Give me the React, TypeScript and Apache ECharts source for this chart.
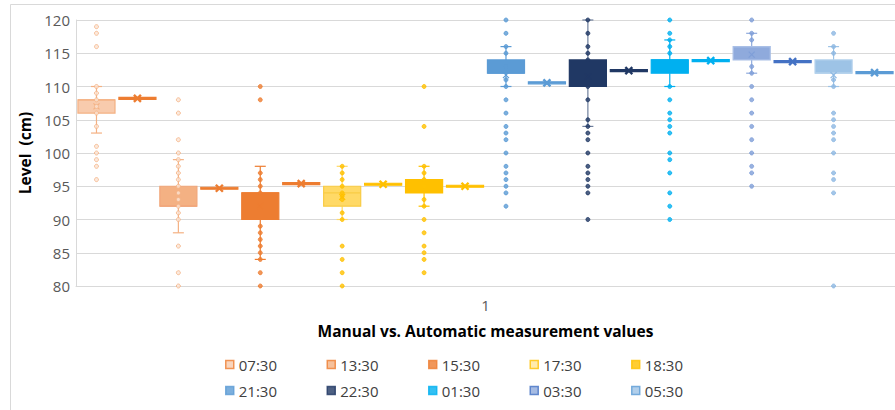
import React, { useEffect, useRef } from "react";
import * as echarts from "echarts";

// ---------- DATA ----------
const categories = ["1"];
const times = ["07:30", "13:30", "15:30", "17:30", "18:30", "21:30", "22:30", "01:30", "03:30", "05:30"];

// manual box statistics: [whisker low, Q1, median, Q3, whisker high, mean]
const manualStats = [
  [103, 106, 108, 108, 110, 107],
  [88, 92, 92, 95, 99, 93],
  [84, 90, 94, 94, 98, 92],
  [90, 92, 94, 95, 98, 93.4],
  [92, 94, 95, 96, 98, 95],
  [110, 112, 112, 114, 116, 111.7],
  [104, 110, 110, 114, 120, 111.5],
  [110, 112, 114, 114, 117, 112.8],
  [112, 114, 116, 116, 118, 114.8],
  [110, 112, 112, 114, 116, 111.7],
];

// automatic measurement statistics: [whisker low, Q1, median, Q3, whisker high, mean]
const autoStats = [
  [108.05, 108.05, 108.2, 108.35, 108.35, 108.2],
  [94.55, 94.55, 94.7, 94.85, 94.85, 94.7],
  [95.25, 95.25, 95.4, 95.55, 95.55, 95.4],
  [95.15, 95.15, 95.3, 95.45, 95.45, 95.3],
  [94.85, 94.85, 95.0, 95.15, 95.15, 95.0],
  [110.4, 110.4, 110.55, 110.7, 110.7, 110.55],
  [112.25, 112.25, 112.4, 112.55, 112.55, 112.4],
  [113.75, 113.75, 113.9, 114.05, 114.05, 113.9],
  [113.6, 113.6, 113.75, 113.9, 113.9, 113.75],
  [111.95, 111.95, 112.1, 112.25, 112.25, 112.1],
];

// individual manual readings (inner points and outliers)
const points0730 = [119, 118, 116, 110, 109, 108, 107, 106, 104, 101, 100, 99, 98, 96];
const points1330 = [108, 106, 102, 100, 99, 98, 97, 96, 95, 94, 93, 92, 91, 90, 86, 82, 80];
const points1530 = [110, 108, 97, 96, 95, 94, 89, 88, 87, 86, 85, 84, 82, 80];
const points1730 = [98, 97, 96, 95, 94, 93.5, 93, 91, 90, 86, 84, 82, 80];
const points1830 = [110, 104, 98, 97, 96, 95, 93, 92, 90, 88, 86, 85, 84, 82];
const points2130 = [120, 118, 116, 115, 113, 111, 110, 108, 106, 104, 103, 102, 100, 98, 97, 96, 95, 94, 92];
const points2230 = [120, 118, 116, 115, 114, 110, 108, 105, 104, 103, 102, 100, 98, 97, 96, 95, 94, 90];
const points0130 = [120, 118, 117, 116, 115, 110, 108, 106, 105, 104, 103, 100, 99, 97, 94, 92, 90];
const points0330 = [120, 118, 117, 113, 112, 110, 108, 106, 104, 102, 100, 98, 97, 95];
const points0530 = [118, 116, 115, 111, 110, 106, 105, 104, 103, 102, 100, 97, 96, 94, 80];
const pointsByTime = [points0730, points1330, points1530, points1730, points1830, points2130, points2230, points0130, points0330, points0530];

const yTicks = { min: 80, max: 120, interval: 5 };

// ---------- STYLES ----------
const manualFill = ["#F8CBAD", "#F4B183", "#ED7D31", "#FFD966", "#FFC000", "#5B9BD5", "#203864", "#00B0F0", "#8FAADC", "#9DC3E6"];
const manualStroke = ["#F4B183", "#F1A67A", "#ED7D31", "#F9CB45", "#FFC000", "#5B9BD5", "#203864", "#00B0F0", "#A9BFE6", "#B3D1EC"];
const whiskerColor = ["#F4B183", "#F4B183", "#ED7D31", "#FFD966", "#FFC000", "#5B9BD5", "#6F7F9C", "#00B0F0", "#8FAADC", "#9DC3E6"];
const autoColor = ["#ED7D31", "#ED7D31", "#ED7D31", "#FFC000", "#FFC000", "#5B9BD5", "#203864", "#00B0F0", "#4472C4", "#5B9BD5"];
const pointFill = ["#FBE3D3", "#FBE3D3", "#ED7D31", "#FFC000", "#FFC000", "#5B9BD5", "#203864", "#00B0F0", "#7F9FD8", "#8DB8E2"];
const pointStroke = ["#F4B183", "#F4B183", "#ED7D31", "#FFC000", "#FFC000", "#5B9BD5", "#203864", "#00B0F0", "#7F9FD8", "#8DB8E2"];
const legendFill = ["#F8CBAD", "#F4B183", "#ED7D31", "#FFE699", "#FFC000", "#5B9BD5", "#203864", "#00B0F0", "#8FAADC", "#9DC3E6"];
const legendStroke = ["#ED7D31", "#ED7D31", "#ED7D31", "#FFC000", "#FFC000", "#5B9BD5", "#203864", "#00B0F0", "#4472C4", "#5B9BD5"];

const FONT = "'Open Sans', 'Segoe UI', sans-serif";
const TEXT = "#595959";

export default function App() {
  const ref = useRef<HTMLDivElement>(null);

  useEffect(() => {
    if (!ref.current) return;
    const chart = echarts.init(ref.current, null, { renderer: "svg" });

    const slots = times.flatMap((t) => [t + " manual", t + " auto"]);
    const boxData = times.flatMap((t, i) => [
      [2 * i, ...manualStats[i]],
      [2 * i + 1, ...autoStats[i]],
    ]);

    const renderItem = (params: any, api: any) => {
      const slot = api.value(0);
      const i = Math.floor(slot / 2);
      const isAuto = slot % 2 === 1;
      const lo = api.coord([slot, api.value(1)]);
      const q1 = api.coord([slot, api.value(2)]);
      const med = api.coord([slot, api.value(3)]);
      const q3 = api.coord([slot, api.value(4)]);
      const hi = api.coord([slot, api.value(5)]);
      const mean = api.coord([slot, api.value(6)]);
      const slotW = api.size([1, 0])[0];
      const bw = slotW * 0.905;
      const cx = lo[0];
      const fill = isAuto ? autoColor[i] : manualFill[i];
      const stroke = isAuto ? autoColor[i] : manualStroke[i];
      const wc = isAuto ? autoColor[i] : whiskerColor[i];
      const xc = isAuto ? autoColor[i] : pointStroke[i];
      const cap = 5.5;
      const children: any[] = [];
      if (!isAuto) {
        children.push(
          { type: "line", shape: { x1: cx, y1: hi[1], x2: cx, y2: q3[1] }, style: { stroke: wc, lineWidth: 1.2 } },
          { type: "line", shape: { x1: cx, y1: q1[1], x2: cx, y2: lo[1] }, style: { stroke: wc, lineWidth: 1.2 } },
          { type: "line", shape: { x1: cx - cap, y1: hi[1], x2: cx + cap, y2: hi[1] }, style: { stroke: wc, lineWidth: 1.2 } },
          { type: "line", shape: { x1: cx - cap, y1: lo[1], x2: cx + cap, y2: lo[1] }, style: { stroke: wc, lineWidth: 1.2 } }
        );
      }
      children.push({
        type: "rect",
        shape: { x: cx - bw / 2, y: q3[1], width: bw, height: Math.max(q1[1] - q3[1], 1) },
        style: { fill, stroke, lineWidth: 1.2 },
      });
      if (!isAuto) {
        children.push({
          type: "line",
          shape: { x1: cx - bw / 2, y1: med[1], x2: cx + bw / 2, y2: med[1] },
          style: { stroke, lineWidth: 1.2 },
        });
      }
      const m = isAuto ? 3.5 : 3;
      children.push(
        { type: "line", shape: { x1: cx - m, y1: mean[1] - m, x2: cx + m, y2: mean[1] + m }, style: { stroke: xc, lineWidth: isAuto ? 2.4 : 1.2 } },
        { type: "line", shape: { x1: cx - m, y1: mean[1] + m, x2: cx + m, y2: mean[1] - m }, style: { stroke: xc, lineWidth: isAuto ? 2.4 : 1.2 } }
      );
      return { type: "group", children };
    };

    const pointSeries = times.map((t, i) => ({
      name: t,
      type: "scatter",
      xAxisIndex: 0,
      yAxisIndex: 0,
      symbol: "circle",
      symbolSize: 4,
      z: 4,
      itemStyle: { color: pointFill[i], borderColor: pointStroke[i], borderWidth: 1 },
      data: pointsByTime[i].map((v) => [2 * i, v]),
    }));

    const legendData = times.map((t, i) => ({
      name: t,
      icon: "rect",
      itemStyle: { color: legendFill[i], borderColor: legendStroke[i], borderWidth: 1.5 },
    }));

    const legendCommon = {
      orient: "horizontal",
      padding: 0,
      itemWidth: 8,
      itemHeight: 8,
      itemGap: 49.5,
      selectedMode: false,
      textStyle: { fontFamily: FONT, fontSize: 15, color: "#404040" },
    };

    chart.setOption({
      animation: false,
      backgroundColor: "#ffffff",
      grid: { left: 76, top: 20, width: 824, height: 266, containLabel: false },
      graphic: [
        {
          type: "rect",
          silent: true,
          shape: { x: 10.5, y: 4.5, width: 1000, height: 1000 },
          style: { fill: "none", stroke: "#D9D9D9", lineWidth: 1 },
        },
      ],
      legend: [
        { ...legendCommon, left: 225, top: 357, data: legendData.slice(0, 5) },
        { ...legendCommon, left: 225, top: 383, data: legendData.slice(5) },
      ],
      xAxis: [
        {
          type: "category",
          data: slots,
          boundaryGap: true,
          axisLine: { show: true, lineStyle: { color: "#D9D9D9" } },
          axisTick: { show: false },
          axisLabel: { show: false },
          splitLine: { show: false },
        },
        {
          type: "category",
          data: categories,
          position: "bottom",
          boundaryGap: true,
          axisLine: { show: false },
          axisTick: { show: false },
          axisLabel: { show: true, color: TEXT, fontFamily: FONT, fontSize: 15, margin: 11 },
          name: "Manual vs. Automatic measurement values",
          nameLocation: "middle",
          nameGap: 37,
          nameTextStyle: { fontFamily: FONT, fontSize: 15.5, fontWeight: "bold", color: "#000000" },
        },
      ],
      yAxis: {
        type: "value",
        min: yTicks.min,
        max: yTicks.max,
        interval: yTicks.interval,
        axisLine: { show: true, lineStyle: { color: "#D9D9D9" } },
        axisTick: { show: false },
        axisLabel: { color: TEXT, fontFamily: FONT, fontSize: 15, margin: 6 },
        splitLine: { show: true, lineStyle: { color: "#D9D9D9", width: 1 } },
        name: "Level  (cm)",
        nameLocation: "middle",
        nameGap: 41,
        nameTextStyle: { fontFamily: FONT, fontSize: 15.5, fontWeight: "bold", color: "#000000" },
      },
      series: [
        {
          type: "custom",
          xAxisIndex: 0,
          yAxisIndex: 0,
          z: 2,
          renderItem,
          encode: { x: 0, y: [1, 2, 3, 4, 5, 6] },
          data: boxData,
        },
        ...pointSeries,
      ],
    });

    return () => chart.dispose();
  }, []);

  return (
    <div
      ref={ref}
      style={{ position: "absolute", left: 0, top: 0, width: 895, height: 410, background: "#fff" }}
    />
  );
}
